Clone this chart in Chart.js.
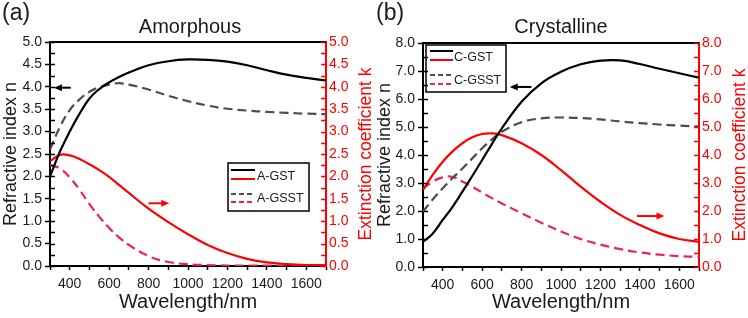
<!DOCTYPE html>
<html>
<head>
<meta charset="utf-8">
<script src="https://cdn.jsdelivr.net/npm/chart.js@4.4.1/dist/chart.umd.min.js"></script>
<style>
  html, body { margin: 0; padding: 0; background: #fff; }
  #wrap { position: relative; width: 748px; height: 318px; }
  .panel { position: absolute; top: 0; width: 374px; height: 318px; }
</style>
</head>
<body>
<div id="wrap">
  <div class="panel" style="left:0"><canvas id="chartA" width="374" height="318"></canvas></div>
  <div class="panel" style="left:374px"><canvas id="chartC" width="374" height="318"></canvas></div>
</div>
<script>
// wavelength grid (nm) shared by all curves
const wavelength = [300, 350, 400, 450, 500, 550, 600, 650, 700, 800, 900, 1000, 1100, 1200, 1300, 1400, 1500, 1600, 1700];
const xTickLabels = [400, 600, 800, 1000, 1200, 1400, 1600];

// (a) amorphous
const aGstN  = [2.0, 2.55, 3.0, 3.4, 3.74, 3.95, 4.1, 4.22, 4.32, 4.48, 4.57, 4.61, 4.6, 4.56, 4.48, 4.37, 4.27, 4.2, 4.14];
const aGsstN = [2.6, 3.1, 3.48, 3.72, 3.89, 3.99, 4.05, 4.08, 4.05, 3.94, 3.8, 3.68, 3.58, 3.51, 3.47, 3.44, 3.42, 3.4, 3.39];
const aGstK  = [2.34, 2.48, 2.47, 2.39, 2.27, 2.14, 1.99, 1.81, 1.63, 1.28, 0.98, 0.71, 0.47, 0.29, 0.16, 0.08, 0.04, 0.02, 0.02];
const aGsstK = [2.25, 2.18, 1.98, 1.7, 1.38, 1.1, 0.85, 0.64, 0.47, 0.22, 0.09, 0.04, 0.02, 0.01, 0.01, 0.01, 0.01, 0.01, 0.01];

// (b) crystalline
const cGstN  = [0.9, 1.2, 1.68, 2.15, 2.69, 3.25, 3.82, 4.4, 4.95, 5.9, 6.56, 6.97, 7.24, 7.37, 7.38, 7.25, 7.08, 6.92, 6.76];
const cGsstN = [1.98, 2.42, 2.81, 3.18, 3.52, 3.88, 4.24, 4.56, 4.83, 5.17, 5.31, 5.34, 5.32, 5.27, 5.2, 5.14, 5.09, 5.05, 5.02];
const cGstK  = [2.75, 3.3, 3.76, 4.13, 4.42, 4.63, 4.75, 4.77, 4.71, 4.42, 4.0, 3.46, 2.87, 2.33, 1.86, 1.5, 1.2, 1.0, 0.9];
const cGsstK = [2.8, 3.05, 3.2, 3.22, 3.05, 2.87, 2.66, 2.46, 2.27, 1.92, 1.58, 1.27, 1.0, 0.8, 0.64, 0.52, 0.44, 0.39, 0.36];

const RED = '#ff0000', PINK = '#f0205c', GRAY = '#4d4d4d', BLACK = '#000000', TXT = '#1a1a1a';
const FONT = "'Liberation Sans', Arial, sans-serif";
const DASH = [9, 5];

function arrow(ctx, x0, y0, x1, y1, color) {
  const dir = Math.sign(x1 - x0);
  ctx.strokeStyle = color; ctx.fillStyle = color; ctx.lineWidth = 2;
  ctx.beginPath(); ctx.moveTo(x0, y0); ctx.lineTo(x1 - dir * 5, y1); ctx.stroke();
  ctx.beginPath();
  ctx.moveTo(x1, y1); ctx.lineTo(x1 - dir * 8, y1 - 3.5); ctx.lineTo(x1 - dir * 8, y1 + 3.5);
  ctx.closePath(); ctx.fill();
}

function innerTicks(ctx, scale, x, dir, step, color) {
  ctx.strokeStyle = color; ctx.lineWidth = 1.5;
  for (let v = scale.min; v <= scale.max + 1e-9; v += step) {
    const py = Math.round(scale.getPixelForValue(v)) + 0.5;
    ctx.beginPath(); ctx.moveTo(x, py); ctx.lineTo(x + dir * 4, py); ctx.stroke();
  }
}

const decor = {
  id: 'decor',
  afterDraw(chart, args, o) {
    const { ctx, chartArea: a, scales } = chart;
    ctx.save();
    // top frame line
    ctx.strokeStyle = BLACK; ctx.lineWidth = 2;
    ctx.beginPath(); ctx.moveTo(a.left - 1, a.top); ctx.lineTo(a.right, a.top); ctx.stroke();

    innerTicks(ctx, scales.y, a.left + 1, 1, o.yMinor, BLACK);
    innerTicks(ctx, scales.y1, a.right - 1, -1, o.yMinor, RED);

    // arrows pointing at their axis
    o.arrows.forEach(ar => {
      const ys = scales[ar.axis];
      arrow(ctx, scales.x.getPixelForValue(ar.from), ys.getPixelForValue(ar.at),
            scales.x.getPixelForValue(ar.to), ys.getPixelForValue(ar.at), ar.color);
    });

    // legend box
    const L = o.legendBox;
    ctx.strokeStyle = BLACK; ctx.lineWidth = 1.5;
    ctx.strokeRect(L.x, L.y, L.w, L.h);
    L.rows.forEach(r => {
      ctx.strokeStyle = r.color; ctx.lineWidth = 2; ctx.setLineDash(r.dash);
      ctx.beginPath(); ctx.moveTo(L.x0, r.y); ctx.lineTo(L.x1, r.y); ctx.stroke();
    });
    ctx.setLineDash([]);
    ctx.fillStyle = TXT; ctx.font = '12.5px ' + FONT;
    ctx.textAlign = 'left'; ctx.textBaseline = 'middle';
    L.texts.forEach(t => ctx.fillText(t.text, L.tx, t.y));

    // panel letter and title
    ctx.fillStyle = TXT;
    ctx.font = '23px ' + FONT; ctx.textBaseline = 'top';
    ctx.fillText(o.letter, 2, 2);
    ctx.font = '20px ' + FONT; ctx.textAlign = 'center'; ctx.textBaseline = 'middle';
    ctx.fillText(o.title, o.titleX, 27);

    // right axis title, reads bottom to top
    ctx.save();
    ctx.translate(366, (a.top + a.bottom) / 2);
    ctx.rotate(-Math.PI / 2);
    ctx.fillStyle = RED; ctx.font = '17.5px ' + FONT;
    ctx.fillText('Extinction coefficient k', 0, 0);
    ctx.restore();
    ctx.restore();
  }
};

function panel(id, o) {
  const datasets = o.series.map(s => ({
    label: s.label,
    data: wavelength.map((x, i) => ({ x, y: s.data[i] })),
    yAxisID: s.axis,
    borderColor: s.color,
    borderWidth: 2.2,
    borderDash: s.dash || [],
    pointRadius: 0,
    tension: 0.4,
    fill: false
  }));
  const isMajor = v => Math.abs(v / o.yLabelStep - Math.round(v / o.yLabelStep)) < 1e-6;
  const yTicks = color => ({
    stepSize: o.yMinor, autoSkip: false, padding: 3, color,
    font: { family: FONT, size: 14 },
    callback: v => isMajor(v) ? v.toFixed(1) : ''
  });

  new Chart(document.getElementById(id), {
    type: 'line',
    data: { datasets },
    options: {
      responsive: false,
      animation: false,
      layout: { padding: { top: o.box.top, left: 0, right: 0, bottom: 0 } },
      plugins: { legend: { display: false }, tooltip: { enabled: false }, decor: o },
      scales: {
        x: {
          type: 'linear', min: 300, max: 1700,
          afterFit: s => { s.height = o.box.bottom; },
          ticks: {
            stepSize: 100, autoSkip: false, maxRotation: 0, padding: 6, color: TXT,
            font: { family: FONT, size: 14 },
            callback: v => xTickLabels.includes(v) ? String(v) : ''
          },
          grid: { drawOnChartArea: false, tickLength: 4, tickColor: BLACK, tickWidth: 1.5 },
          border: { color: BLACK, width: 2 },
          title: { display: true, text: 'Wavelength/nm', color: TXT,
                   font: { family: FONT, size: 20 }, padding: { top: 0, bottom: 4 } }
        },
        y: {
          position: 'left', min: 0, max: o.yMax,
          afterFit: s => { s.width = o.box.left; },
          ticks: yTicks(TXT),
          grid: { drawOnChartArea: false, tickLength: 5, tickWidth: 1.5,
                  tickColor: c => isMajor(c.tick.value) ? BLACK : 'rgba(0,0,0,0)' },
          border: { color: BLACK, width: 2 },
          title: { display: true, text: 'Refractive index n', color: TXT,
                   font: { family: FONT, size: 18 }, padding: 0 }
        },
        y1: {
          position: 'right', min: 0, max: o.yMax,
          afterFit: s => { s.width = o.box.right; },
          ticks: yTicks(RED),
          grid: { drawOnChartArea: false, drawTicks: false },
          border: { color: RED, width: 2 }
        }
      }
    },
    plugins: [decor]
  });
}

panel('chartA', {
  letter: '(a)', title: 'Amorphous', titleX: 190,
  yMax: 5, yMinor: 0.25, yLabelStep: 0.5,
  box: { top: 42, bottom: 52, left: 50, right: 48 },
  series: [
    { label: 'A-GST n', data: aGstN, axis: 'y', color: BLACK },
    { label: 'A-GSST n', data: aGsstN, axis: 'y', color: GRAY, dash: DASH },
    { label: 'A-GST k', data: aGstK, axis: 'y1', color: RED },
    { label: 'A-GSST k', data: aGsstK, axis: 'y1', color: PINK, dash: DASH }
  ],
  arrows: [
    { from: 405, to: 320, at: 3.98, axis: 'y', color: BLACK },
    { from: 800, to: 905, at: 1.4, axis: 'y1', color: RED }
  ],
  legendBox: {
    x: 228, y: 163, w: 81, h: 48, x0: 231, x1: 255, tx: 257,
    rows: [
      { y: 170, color: BLACK, dash: [] },
      { y: 179, color: RED, dash: [] },
      { y: 194, color: GRAY, dash: [5, 3] },
      { y: 202, color: PINK, dash: [5, 3] }
    ],
    texts: [{ text: 'A-GST', y: 177 }, { text: 'A-GSST', y: 199 }]
  }
});

panel('chartC', {
  letter: '(b)', title: 'Crystalline', titleX: 187,
  yMax: 8, yMinor: 0.5, yLabelStep: 1,
  box: { top: 43, bottom: 51, left: 49, right: 49 },
  series: [
    { label: 'C-GST n', data: cGstN, axis: 'y', color: BLACK },
    { label: 'C-GSST n', data: cGsstN, axis: 'y', color: GRAY, dash: DASH },
    { label: 'C-GST k', data: cGstK, axis: 'y1', color: RED },
    { label: 'C-GSST k', data: cGsstK, axis: 'y1', color: PINK, dash: DASH }
  ],
  arrows: [
    { from: 850, to: 740, at: 6.43, axis: 'y', color: BLACK },
    { from: 1385, to: 1525, at: 1.82, axis: 'y1', color: RED }
  ],
  legendBox: {
    x: 52, y: 45, w: 80, h: 47, x0: 56, x1: 79, tx: 80,
    rows: [
      { y: 51, color: BLACK, dash: [] },
      { y: 60, color: RED, dash: [] },
      { y: 75, color: GRAY, dash: [5, 3] },
      { y: 84, color: PINK, dash: [5, 3] }
    ],
    texts: [{ text: 'C-GST', y: 58 }, { text: 'C-GSST', y: 81 }]
  }
});
</script>
</body>
</html>
